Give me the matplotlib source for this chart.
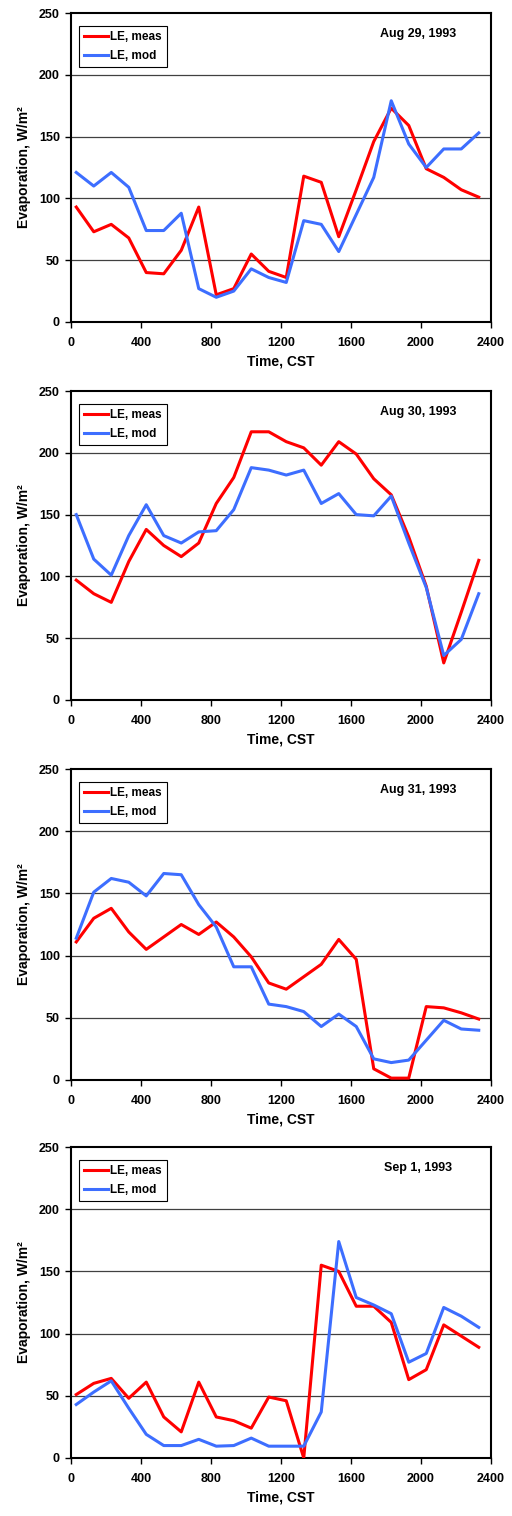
import matplotlib
matplotlib.use("Agg")
import matplotlib.pyplot as plt
import numpy as np

plt.rcParams['font.family'] = ['Liberation Sans', 'DejaVu Sans']

time = [30, 130, 230, 330, 430, 530, 630, 730, 830, 930, 1030, 1130,
        1230, 1330, 1430, 1530, 1630, 1730, 1830, 1930, 2030, 2130, 2230, 2330]

dates = ["Aug 29, 1993", "Aug 30, 1993", "Aug 31, 1993", "Sep 1, 1993"]

meas_aug29 = [93, 73, 79, 68, 40, 39, 58, 93, 22, 27, 55, 41,
              36, 118, 113, 69, 107, 146, 173, 159, 124, 117, 107, 101]
mod_aug29 = [121, 110, 121, 109, 74, 74, 88, 27, 20, 25, 43, 36,
             32, 82, 79, 57, 87, 117, 179, 144, 125, 140, 140, 153]

meas_aug30 = [97, 86, 79, 112, 138, 125, 116, 127, 159, 180, 217, 217,
              209, 204, 190, 209, 199, 179, 166, 132, 92, 30, 71, 113]
mod_aug30 = [150, 114, 101, 133, 158, 133, 127, 136, 137, 154, 188, 186,
             182, 186, 159, 167, 150, 149, 165, 127, 91, 36, 49, 86]

meas_aug31 = [111, 130, 138, 119, 105, 115, 125, 117, 127, 115, 99, 78,
              73, 83, 93, 113, 97, 9, 1.5, 1.5, 59, 58, 54, 49]
mod_aug31 = [114, 151, 162, 159, 148, 166, 165, 141, 123, 91, 91, 61,
             59, 55, 43, 53, 43, 17, 14, 16, 32, 48, 41, 40]

meas_sep1 = [51, 60, 64, 48, 61, 33, 21, 61, 33, 30, 24, 49,
             46, 0, 155, 150, 122, 122, 109, 63, 71, 107, 98, 89]
mod_sep1 = [43, 53, 62, 40, 19, 10, 10, 15, 9.5, 10, 16, 9.5,
            9.5, 9.5, 37, 174, 129, 123, 116, 77, 84, 121, 114, 105]

meas_all = [meas_aug29, meas_aug30, meas_aug31, meas_sep1]
mod_all = [mod_aug29, mod_aug30, mod_aug31, mod_sep1]

xticks = [0, 400, 800, 1200, 1600, 2000, 2400]
yticks = [0, 50, 100, 150, 200, 250]

W, H = 512, 1516
fig = plt.figure(figsize=(W / 100, H / 100), dpi=100)

tops = [13, 391, 769, 1147]
bottoms = [322, 700, 1080, 1458]
left, right = 71, 491

for i in range(4):
    ax = fig.add_axes([left / W, 1 - bottoms[i] / H, (right - left) / W,
                       (bottoms[i] - tops[i]) / H])
    ax.set_xlim(0, 2400)
    ax.set_ylim(0, 250)
    for y in [50, 100, 150, 200]:
        ax.axhline(y, color='#404040', lw=0.9, zorder=1)
    ax.plot(time, meas_all[i], color='#FF0000', lw=2.2, label='LE, meas', zorder=3)
    ax.plot(time, mod_all[i], color='#3D6EFF', lw=2.2, label='LE, mod', zorder=3)
    ax.set_xticks(xticks)
    ax.set_yticks(yticks)
    ax.tick_params(direction='out', length=4, width=1, labelsize=9)
    ax.tick_params(axis='x', pad=7)
    ax.tick_params(axis='y', pad=4)
    for lab in ax.get_xticklabels() + ax.get_yticklabels():
        lab.set_fontweight('bold')
    for s in ax.spines.values():
        s.set_linewidth(1.5)
        s.set_color('black')
    ax.set_xlabel('Time, CST', fontsize=10, fontweight='bold', labelpad=4)
    ax.set_ylabel('Evaporation, W/m²', fontsize=10, fontweight='bold', labelpad=6)
    leg = ax.legend(loc='upper left', bbox_to_anchor=(0.019, 0.958),
                    prop={'weight': 'bold', 'size': 8.5}, frameon=True, fancybox=False,
                    handlelength=2.1, handletextpad=0.15, borderpad=0.4,
                    labelspacing=0.6, borderaxespad=0.0)
    leg.get_frame().set_edgecolor('black')
    leg.get_frame().set_linewidth(0.8)
    leg.get_frame().set_alpha(1.0)
    ax.text(0.826, 0.932, dates[i], transform=ax.transAxes, ha='center', va='center',
            fontsize=9, fontweight='bold')

fig.savefig('out.png', dpi=100)
